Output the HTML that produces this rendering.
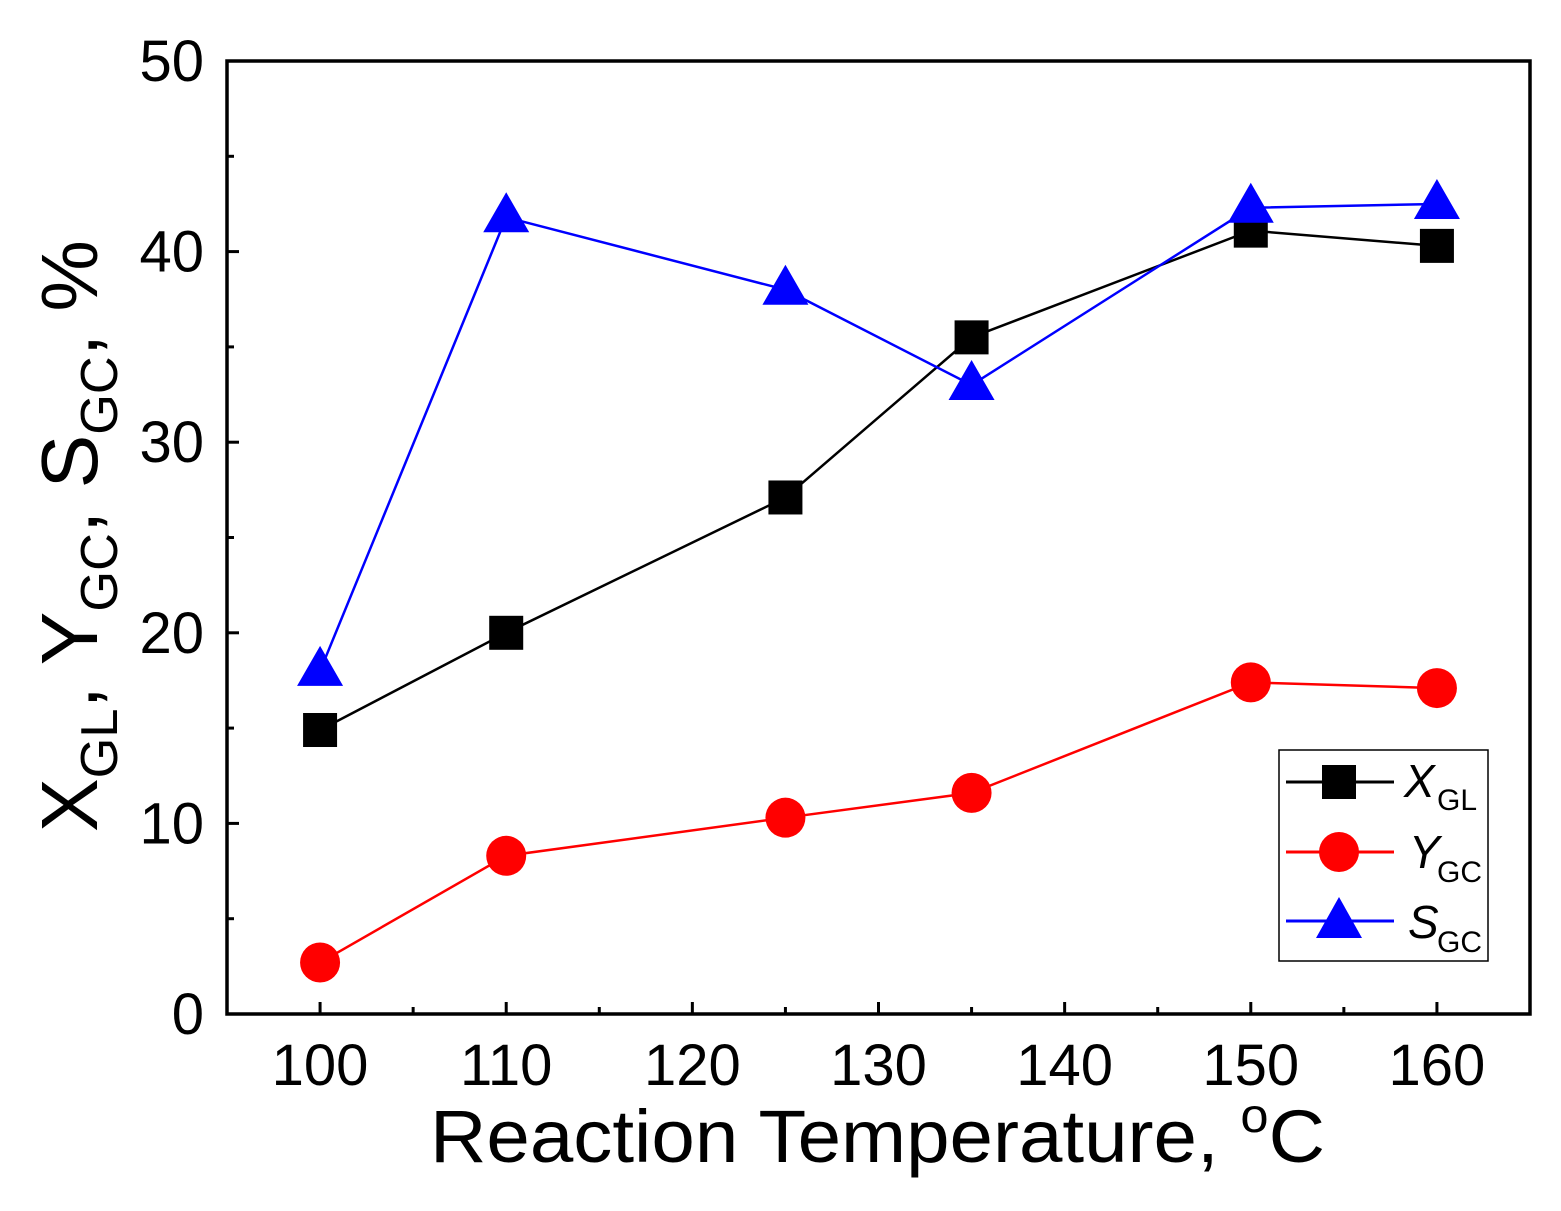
<!DOCTYPE html>
<html><head><meta charset="utf-8"><style>
html,body{margin:0;padding:0;background:#fff;}
svg{display:block;font-family:"Liberation Sans",Arial,sans-serif;}
</style></head><body>
<svg id="chart" width="1561" height="1211" viewBox="0 0 1561 1211" xmlns="http://www.w3.org/2000/svg">
<rect x="227" y="61" width="1303" height="953" fill="#fff" stroke="#000" stroke-width="3.5"/>
<g id="ticks"></g>
<g id="series"></g>
<text x="430" y="1162" font-size="74" textLength="895" lengthAdjust="spacingAndGlyphs">Reaction Temperature, <tspan dy="-30" font-size="48">o</tspan><tspan dy="30">C</tspan></text>
<text transform="translate(97,832) rotate(-90)" font-size="80" textLength="592" lengthAdjust="spacingAndGlyphs">X<tspan font-size="52" dy="20">GL</tspan><tspan dy="-20">, Y</tspan><tspan font-size="52" dy="20">GC</tspan><tspan dy="-20">, S</tspan><tspan font-size="52" dy="20">GC</tspan><tspan dy="-20">, %</tspan></text>
<g>
<rect x="1279" y="750" width="209" height="211" fill="#fff" stroke="#000" stroke-width="1.5"/>
<g>
<line x1="1286" y1="782" x2="1394" y2="782" stroke="#000" stroke-width="3"/>
<rect x="1322" y="765" width="34" height="34" fill="#000"/>
<text x="1404" y="797" font-size="46" font-style="italic">X</text><text x="1437" y="810" font-size="30">GL</text>
</g>
<g>
<line x1="1286" y1="852" x2="1394" y2="852" stroke="#f00" stroke-width="3"/>
<circle cx="1339" cy="852" r="20" fill="#f00"/>
<text x="1409" y="868" font-size="46" font-style="italic">Y</text><text x="1437" y="882" font-size="30">GC</text>
</g>
<g>
<line x1="1286" y1="921" x2="1394" y2="921" stroke="#00f" stroke-width="3"/>
<polygon points="1339,897 1362,938 1316,938" fill="#00f"/>
<text x="1408" y="938" font-size="46" font-style="italic">S</text><text x="1437" y="952" font-size="30">GC</text>
</g>
</g>
</svg>
<script>
const temps = [100, 110, 125, 135, 150, 160];
const xgl = [14.9, 20.0, 27.1, 35.5, 41.1, 40.3];
const ygc = [2.7, 8.3, 10.3, 11.6, 17.4, 17.1];
const sgc = [18.0, 41.8, 38.0, 33.0, 42.3, 42.5];
const xTicks = [100, 110, 120, 130, 140, 150, 160];
const yTicks = [0, 10, 20, 30, 40, 50];

const NS = "http://www.w3.org/2000/svg";
const X0 = 227, X1 = 1530, Y0 = 1014, Y1 = 61;
const XMIN = 95, XMAX = 165, YMIN = 0, YMAX = 50;
function sx(v){ return X0 + (v - XMIN) / (XMAX - XMIN) * (X1 - X0); }
function sy(v){ return Y0 - (v - YMIN) / (YMAX - YMIN) * (Y0 - Y1); }
function mk(tag, attrs, parent){
  const e = document.createElementNS(NS, tag);
  for (const k in attrs) e.setAttribute(k, attrs[k]);
  parent.appendChild(e);
  return e;
}
const tg = document.getElementById('ticks');
xTicks.forEach(t => {
  const l = mk('line', {x1: sx(t), x2: sx(t), y1: Y0, y2: Y0 - 12, stroke: '#000', 'stroke-width': 3}, tg);
  
  
  const tx = mk('text', {x: sx(t), y: 1085, 'font-size': 58, 'text-anchor': 'middle'}, tg);
  tx.textContent = t;
  
  
  if (t < 160) {
    const m = mk('line', {x1: sx(t + 5), x2: sx(t + 5), y1: Y0, y2: Y0 - 7, stroke: '#000', 'stroke-width': 3}, tg);
    
    
  }
});
yTicks.forEach(t => {
  const l = mk('line', {x1: X0, x2: X0 + 12, y1: sy(t), y2: sy(t), stroke: '#000', 'stroke-width': 3}, tg);
  
  
  const tx = mk('text', {x: 204, y: sy(t) + 20, 'font-size': 58, 'text-anchor': 'end'}, tg);
  tx.textContent = t;
  
  
  if (t < 50) {
    const m = mk('line', {x1: X0, x2: X0 + 7, y1: sy(t + 5), y2: sy(t + 5), stroke: '#000', 'stroke-width': 3}, tg);
    
    
  }
});
const sg = document.getElementById('series');
function drawSeries(vals, color, shape, name){
  const g = mk('g', {}, sg);
  
  
  const pts = temps.map((t, i) => sx(t) + ',' + sy(vals[i])).join(' ');
  const pl = mk('polyline', {points: pts, fill: 'none', stroke: color, 'stroke-width': 2.5}, g);
  
  
  temps.forEach((t, i) => {
    const x = sx(t), y = sy(vals[i]);
    let e;
    if (shape === 'square') e = mk('rect', {x: x - 17, y: y - 17, width: 34, height: 34, fill: color}, g);
    else if (shape === 'circle') e = mk('circle', {cx: x, cy: y, r: 20, fill: color}, g);
    else e = mk('polygon', {points: `${x},${y-25} ${x+23},${y+15} ${x-23},${y+15}`, fill: color}, g);
    
    
  });
}
drawSeries(xgl, '#000', 'square', 'xgl');
drawSeries(ygc, '#f00', 'circle', 'ygc');
drawSeries(sgc, '#00f', 'triangle', 'sgc');
</script>
</body></html>
